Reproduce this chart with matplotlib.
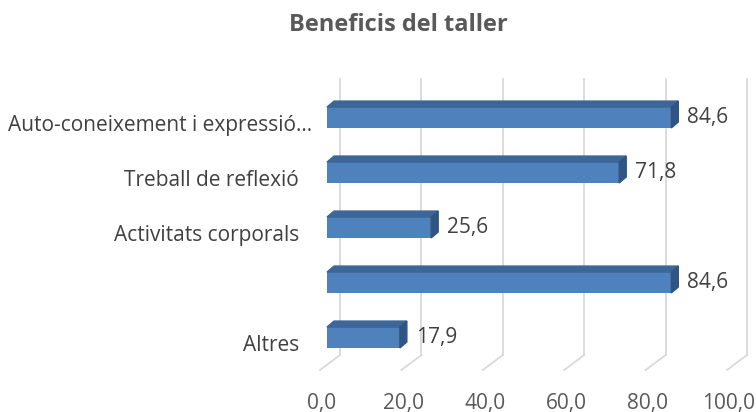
import numpy as np
import matplotlib.pyplot as plt
import matplotlib.transforms as mtransforms
from matplotlib.patches import Polygon

plt.rcParams['font.family'] = ['Open Sans', 'DejaVu Sans']

# dades
categories = ['Auto-coneixement i expressió…', 'Treball de reflexió',
              'Activitats corporals', '', 'Altres']
values = [84.6, 71.8, 25.6, 84.6, 17.9]
ticks = [0, 20, 40, 60, 80, 100]

W, H = 756, 412
fig = plt.figure(figsize=(W / 100, H / 100), dpi=100)
# pla frontal de les barres (en píxels)
left, right = 327, 734
top, bottom = 88.75, 364.75
ax = fig.add_axes([left / W, 1 - bottom / H, (right - left) / W, (bottom - top) / H])
ax.set_xlim(0, 100)
ax.set_ylim(4.495, -0.523)
ax.patch.set_visible(False)
for s in ax.spines.values():
    s.set_visible(False)

# profunditat 3D (px)
back_dx, back_dy = 13, 9.75
front_dx, front_dy = -7, -5.25
bar_dx, bar_dy = 7, 6

grid_c = '#d9d9d9'
back = mtransforms.offset_copy(ax.transData, fig=fig, x=back_dx, y=back_dy, units='dots')
for t in ticks:
    # línia vertical a la paret del fons
    p0 = back.transform((t, 4.495))
    p1 = (p0[0], H - 79)
    ax.plot([p0[0], p1[0]], [p0[1], p1[1]], color=grid_c, lw=1.3,
            transform=None, zorder=0, clip_on=False)
    # diagonal al terra
    f0 = ax.transData.transform((t, 4.495)) + np.array([front_dx, front_dy])
    ax.plot([f0[0], p0[0]], [f0[1], p0[1]], color=grid_c, lw=1.3,
            transform=None, zorder=0, clip_on=False)

front_c = '#4f81bd'
top_c = '#3c6697'
side_c = '#2f5585'
h = 0.38
y = np.arange(len(categories))
ax.barh(y, values, height=h, color=front_c, zorder=3)
for yi, v in zip(y, values):
    a = ax.transData.transform((0, yi - h / 2))
    b = ax.transData.transform((v, yi - h / 2))
    c = ax.transData.transform((v, yi + h / 2))
    off = np.array([bar_dx, bar_dy])
    ax.add_patch(Polygon([a, b, b + off, a + off], closed=True, color=top_c,
                         transform=None, zorder=3, clip_on=False))
    ax.add_patch(Polygon([b, c, c + off, b + off], closed=True, color=side_c,
                         transform=None, zorder=3, clip_on=False))
    ax.annotate(f'{v:.1f}'.replace('.', ','), (v, yi), xytext=(11.5, 0),
                textcoords='offset points', va='center', ha='left',
                fontsize=15, color='#404040')

ax.set_yticks(y)
ax.set_yticklabels(categories, fontsize=15, color='#404040')
ax.set_xticks(ticks)
ax.set_xticklabels([f'{t:.1f}'.replace('.', ',') for t in ticks], fontsize=15, color='#595959')
ax.tick_params(axis='y', length=0, pad=20)
ax.tick_params(axis='x', length=0, pad=20)
for i, lab in enumerate(ax.get_yticklabels()):
    dx = 13 if i == 0 else 0
    lab.set_transform(lab.get_transform() +
                      mtransforms.ScaledTranslation(dx / 100, -5 / 100, fig.dpi_scale_trans))
shift_x = mtransforms.ScaledTranslation(-5 / 100, 0, fig.dpi_scale_trans)
for lab in ax.get_xticklabels():
    lab.set_transform(lab.get_transform() + shift_x)

fig.text(398 / W, 1 - 25 / H, 'Beneficis del taller', ha='center', va='center',
         fontsize=17, fontweight='bold', color='#595959')

fig.savefig('out.png', dpi=100)
